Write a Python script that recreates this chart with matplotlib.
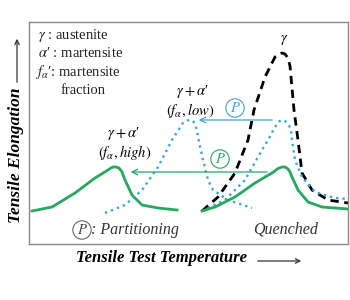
import matplotlib
matplotlib.use('Agg')
import matplotlib.pyplot as plt

plt.rcParams['font.family'] = ['Liberation Serif', 'DejaVu Serif']
plt.rcParams['mathtext.fontset'] = 'stix'

GREEN = '#27a85e'
CYAN = '#3aa6d6'

# schematic curves: (temperature, elongation), arbitrary units
green_hi_t = [3, 23, 46, 66, 79, 82, 84, 87, 90, 93, 96, 103, 113, 129, 148]
green_hi_e = [33, 37, 51, 66, 74, 76, 77, 77, 76, 72, 64, 49, 39, 36, 34]

cyan_lo_t = [76, 96, 113, 129, 143, 154, 158, 161, 164, 166, 168, 169, 174, 179, 184, 199, 223]
cyan_lo_e = [31, 39, 54, 77, 104, 121, 123.5, 124, 123, 120, 114, 107, 84, 64, 54, 44, 36]

gamma_t = [173, 189, 206, 219, 225, 236, 246, 250, 253, 256, 259, 261, 262, 265, 269, 273, 283, 299, 319]
gamma_e = [33, 47, 71, 104, 134, 167, 187, 190, 191, 190, 186, 178, 167, 134, 104, 71, 54, 44, 41]

cyan_q_t = [173, 196, 216, 233, 239, 246, 250, 253, 256, 260, 262, 263, 266, 273, 286, 306, 319]
cyan_q_e = [33, 44, 64, 94, 104, 117, 122.5, 124, 123, 119, 113, 104, 84, 67, 52, 46, 45]

green_q_t = [173, 186, 206, 226, 243, 249, 253, 256, 259, 261, 263, 269, 279, 293, 319]
green_q_e = [33, 37, 47, 61, 71, 75.5, 77, 77, 75, 72, 67, 54, 42, 37, 35]

fig = plt.figure(figsize=(3.5, 3.0), dpi=100)
ax = fig.add_axes([29/350, 56/300, 319/350, 222/300])
ax.set_xlim(0, 319)
ax.set_ylim(0, 222)
ax.set_xticks([])
ax.set_yticks([])
for s in ax.spines.values():
    s.set_color('#8a8a8a')
    s.set_linewidth(1.0)

ax.plot(green_hi_t, green_hi_e, color=GREEN, lw=2.0, solid_joinstyle='round')
ax.plot(cyan_lo_t, cyan_lo_e, color=CYAN, lw=1.7, ls=(0, (1, 1.7)))
ax.plot(gamma_t, gamma_e, color='black', lw=2.0, ls=(0, (3, 2)))
ax.plot(cyan_q_t, cyan_q_e, color=CYAN, lw=1.7, ls=(0, (1, 1.7)))
ax.plot(green_q_t, green_q_e, color=GREEN, lw=2.0, solid_joinstyle='round')

# partitioning arrows
ax.annotate('', xy=(167, 124), xytext=(246, 124),
            arrowprops=dict(arrowstyle='->', color=CYAN, lw=0.9))
ax.annotate('', xy=(99, 72), xytext=(241, 72),
            arrowprops=dict(arrowstyle='->', color=GREEN, lw=0.9))

circ = dict(boxstyle='circle,pad=0.15', fc='white', lw=0.8)
ax.text(206, 136, '$P$', color=CYAN, fontsize=10.5, ha='center', va='center',
        bbox=dict(circ, ec=CYAN))
ax.text(191, 85, '$P$', color=GREEN, fontsize=10.5, ha='center', va='center',
        bbox=dict(circ, ec=GREEN))
ax.text(53, 14, '$P$', color='#444444', fontsize=10.5, ha='center', va='center',
        bbox=dict(circ, ec='#666666'))
ax.text(62, 14, ': Partitioning', fontsize=11.5, style='italic', color='#333333',
        ha='left', va='center')
ax.text(257, 14, 'Quenched', fontsize=11.5, style='italic', color='#333333',
        ha='center', va='center')

# key
fs = 10.5
ax.text(9, 209, r'$\gamma$ : austenite', fontsize=fs, va='center', color='#222222')
ax.text(9, 191, '$\\alpha$\u2032 : martensite', fontsize=fs, va='center', color='#222222')
ax.text(6, 172, '$f_{\\alpha}$\u2032: martensite', fontsize=fs, va='center', color='#222222')
ax.text(32, 154, 'fraction', fontsize=fs, va='center', color='#222222')

ax.text(94, 111, '$\\gamma + \\alpha$\u2032', fontsize=fs, ha='center', va='center')
ax.text(96, 92, r'$(f_{\alpha}, high)$', fontsize=fs, ha='center', va='center')
ax.text(163, 152, '$\\gamma + \\alpha$\u2032', fontsize=fs, ha='center', va='center')
ax.text(161, 134, r'$(f_{\alpha}, low)$', fontsize=fs, ha='center', va='center')
ax.text(255, 204, r'$\gamma$', fontsize=fs, ha='center', va='center')

# axis titles with arrows
fig.text(162/350, 1 - 258/300, 'Tensile Test Temperature', fontsize=12,
         weight='bold', style='italic', ha='center', va='center')
fig.text(16/350, 1 - 155/300, 'Tensile Elongation', fontsize=12.5,
         weight='bold', style='italic', ha='center', va='center', rotation=90)
fig.patches.append(matplotlib.patches.FancyArrowPatch(
    (255/350, 1 - 261/300), (304/350, 1 - 261/300), transform=fig.transFigure,
    arrowstyle='->', mutation_scale=8, lw=0.9, color='#333333'))
fig.patches.append(matplotlib.patches.FancyArrowPatch(
    (17/350, 1 - 85/300), (17/350, 1 - 36/300), transform=fig.transFigure,
    arrowstyle='->', mutation_scale=8, lw=0.9, color='#333333'))

fig.savefig('out.png', dpi=100)
